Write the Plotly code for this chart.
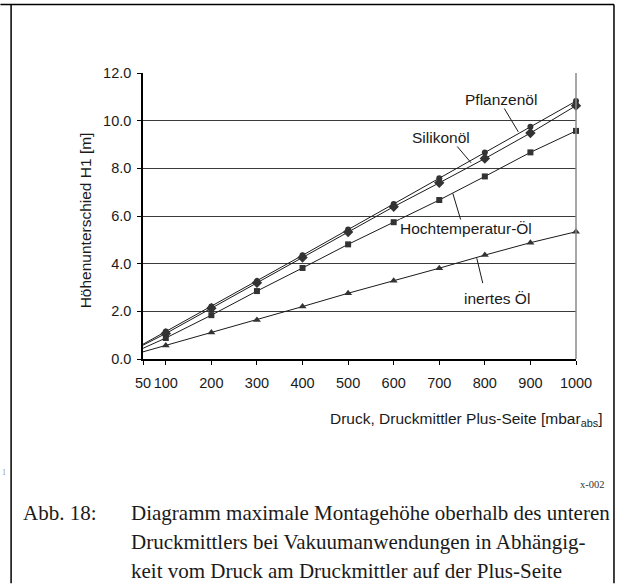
import plotly.graph_objects as go

# ---- data ----
pressure = [50, 100, 200, 300, 400, 500, 600, 700, 800, 900, 1000]
pflanzenoel = [0.62, 1.15, 2.20, 3.27, 4.35, 5.43, 6.50, 7.58, 8.66, 9.74, 10.82]
silikonoel = [0.58, 1.07, 2.13, 3.20, 4.26, 5.33, 6.39, 7.39, 8.41, 9.48, 10.63]
hochtemp = [0.45, 0.88, 1.84, 2.85, 3.82, 4.81, 5.74, 6.67, 7.66, 8.67, 9.57]
inert = [0.30, 0.57, 1.11, 1.64, 2.20, 2.76, 3.28, 3.81, 4.36, 4.88, 5.34]
x_ticks = [50, 100, 200, 300, 400, 500, 600, 700, 800, 900, 1000]
y_ticks = [0, 2, 4, 6, 8, 10, 12]

series = [
    ("Pflanzenöl", pflanzenoel, "circle", 6),
    ("Silikonöl", silikonoel, "diamond", 8),
    ("Hochtemperatur-Öl", hochtemp, "square", 6),
    ("inertes Öl", inert, "triangle-up", 7),
]

W, H = 621, 584
L, R, T, B = 142.7, 576.0, 72.7, 359.3
PW, PH = R - L, B - T


def px(x):
    return (x - L) / PW


def py(y):
    return (B - y) / PH


SANS = "Liberation Sans, Arial, sans-serif"
SERIF = "Liberation Serif, Times New Roman, serif"

fig = go.Figure()
for name, vals, sym, sz in series:
    fig.add_trace(go.Scatter(x=pressure, y=vals, mode="lines",
                             line=dict(color="#1a1a1a", width=1),
                             showlegend=False, hoverinfo="skip", cliponaxis=False))
    fig.add_trace(go.Scatter(x=pressure[1:], y=vals[1:], mode="markers", name=name,
                             marker=dict(symbol=sym, size=sz, color="#333333",
                                         line=dict(width=0)),
                             showlegend=False, cliponaxis=False))

shapes = []
# right border of plot area (grey)
shapes.append(dict(type="line", xref="paper", yref="paper", x0=1, x1=1, y0=0, y1=1,
                   line=dict(color="#8a8a8a", width=1.5), layer="above"))
# outer frame
for (x0, y0, x1, y1) in [(0, 4, 614, 4), (10.7, 4, 10.7, 584), (614, 4, 614, 584)]:
    shapes.append(dict(type="line", xref="paper", yref="paper",
                       x0=px(x0), x1=px(x1), y0=py(y0), y1=py(y1),
                       line=dict(color="black", width=1.5)))
# leader lines
leaders = [
    ((503.3, 106.7), (518.3, 131.7)),
    ((456.0, 145.0), (471.0, 162.7)),
    ((452.7, 193.3), (461.7, 223.3)),
    ((476.7, 258.3), (482.7, 283.3)),
]
for (a, b) in leaders:
    shapes.append(dict(type="line", xref="paper", yref="paper",
                       x0=px(a[0]), y0=py(a[1]), x1=px(b[0]), y1=py(b[1]),
                       line=dict(color="#1a1a1a", width=1)))

annotations = []
labels = [
    ("Pflanzenöl", 500.7, 99.3),
    ("Silikonöl", 441.0, 137.3),
    ("Hochtemperatur-Öl", 465.7, 229.0),
    ("inertes Öl", 497.0, 298.3),
]
for text, cx, cy in labels:
    annotations.append(dict(text=text, xref="paper", yref="paper", x=px(cx), y=py(cy),
                            xanchor="center", yanchor="middle", showarrow=False,
                            bgcolor="white", borderpad=0,
                            font=dict(family=SANS, size=15.5, color="#1a1a1a")))
# axis titles
annotations.append(dict(text="Höhenunterschied H1 [m]", xref="paper", yref="paper",
                        x=px(86), y=py(220), textangle=-90, xanchor="center",
                        yanchor="middle", showarrow=False,
                        font=dict(family=SANS, size=15.5, color="#1a1a1a")))
annotations.append(dict(text="Druck, Druckmittler Plus-Seite [mbar<sub>abs</sub>]",
                        xref="paper", yref="paper", x=px(328), y=py(408),
                        xanchor="left", yanchor="top", showarrow=False,
                        font=dict(family=SANS, size=15.5, color="#1a1a1a")))
# small reference text
annotations.append(dict(text="x-002", xref="paper", yref="paper", x=px(607), y=py(485),
                        xanchor="right", yanchor="middle", showarrow=False,
                        font=dict(family=SERIF, size=10.5, color="#333333")))
annotations.append(dict(text="1", xref="paper", yref="paper", x=px(0), y=py(473),
                        xanchor="left", yanchor="middle", showarrow=False,
                        font=dict(family=SERIF, size=8, color="#999999")))
# caption
annotations.append(dict(text="Abb. 18:", xref="paper", yref="paper", x=px(20.7), y=py(514),
                        xanchor="left", yanchor="middle", showarrow=False,
                        font=dict(family=SERIF, size=21, color="#1a1a1a")))
caption = [
    ("Diagramm maximale Montagehöhe oberhalb des unteren", 514),
    ("Druckmittlers bei Vakuumanwendungen in Abhängig-", 543),
    ("keit vom Druck am Druckmittler auf der Plus-Seite", 572),
]
for text, cy in caption:
    annotations.append(dict(text=text, xref="paper", yref="paper", x=px(128.3), y=py(cy),
                            xanchor="left", yanchor="middle", showarrow=False,
                            font=dict(family=SERIF, size=21, color="#1a1a1a")))

fig.update_layout(
    width=W, height=H,
    margin=dict(l=L, r=W - R, t=T, b=H - B, pad=0),
    paper_bgcolor="white", plot_bgcolor="white",
    shapes=shapes, annotations=annotations,
    font=dict(family=SANS, color="#1a1a1a"),
    xaxis=dict(range=[50, 1000], tickvals=x_ticks, ticktext=[str(v) for v in x_ticks],
               showgrid=False, zeroline=False, showline=True, linecolor="black",
               linewidth=1.5, ticks="outside", ticklen=4, tickcolor="black",
               tickwidth=1, ticklabelstandoff=6,
               tickfont=dict(family=SANS, size=14.5, color="#1a1a1a")),
    yaxis=dict(range=[0, 12], tickvals=y_ticks, ticktext=[f"{v:.1f}" for v in y_ticks],
               showgrid=True, gridcolor="#3a3a3a", gridwidth=1, zeroline=False,
               showline=True, linecolor="black", linewidth=1.5, ticks="outside",
               ticklen=4, tickcolor="black", tickwidth=1, ticklabelstandoff=3,
               tickfont=dict(family=SANS, size=14.5, color="#1a1a1a")),
)

fig.write_html("out.html", config={"displayModeBar": False},
               post_script="document.body.style.margin='0';document.body.style.overflow='hidden';")
